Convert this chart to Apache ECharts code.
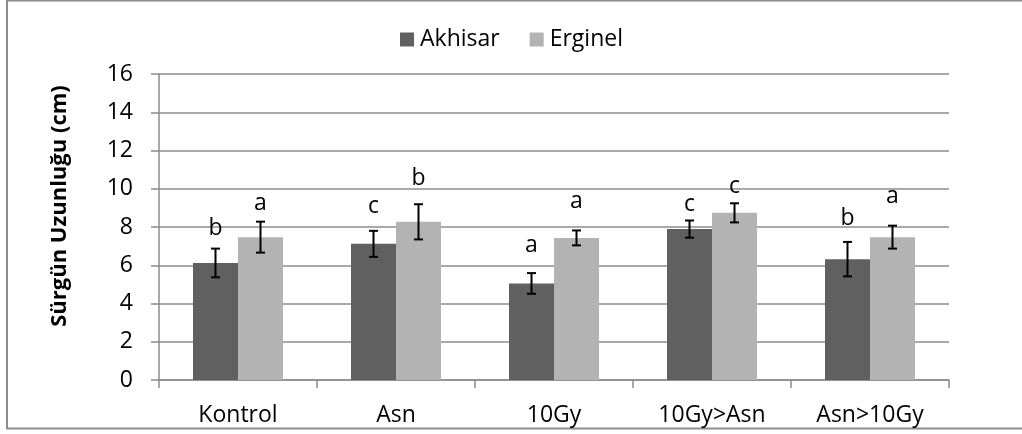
<!DOCTYPE html>
<html>
<head>
<meta charset="utf-8">
<script src="https://cdn.jsdelivr.net/npm/echarts@6/dist/echarts.min.js"></script>
<style>
html,body{margin:0;padding:0;background:#fff;}
#chart{width:1022px;height:434px;}
</style>
</head>
<body>
<div id="chart"></div>
<script>
// ---- data ----
const categories = ['Kontrol', 'Asn', '10Gy', '10Gy>Asn', 'Asn>10Gy'];
const seriesNames = ['Akhisar', 'Erginel'];
const akhisarValues = [6.12, 7.12, 5.05, 7.89, 6.32];
const erginelValues = [7.47, 8.27, 7.43, 8.74, 7.47];
const akhisarErrors = [0.75, 0.68, 0.54, 0.45, 0.90];
const erginelErrors = [0.81, 0.92, 0.39, 0.50, 0.60];
const akhisarLetters = ['b', 'c', 'a', 'c', 'b'];
const erginelLetters = ['a', 'b', 'a', 'c', 'a'];
// letter baseline heights (axis units)
const akhisarLetterY = [7.57, 8.72, 6.68, 8.83, 8.09];
const erginelLetterY = [8.88, 10.18, 8.98, 9.76, 9.24];
const yTicks = { min: 0, max: 16, interval: 2 };
const yAxisTitle = 'Sürgün Uzunluğu (cm)';

// ---- style ----
const FONT = '"Open Sans", "Noto Sans", sans-serif';
const FS = 23;
const GRAY = '#8c8c8c';
const COLORS = ['#606060', '#b3b3b3'];
const BAR_W = 45;

const chart = echarts.init(document.getElementById('chart'), null, { renderer: 'canvas' });

function errData(vals, errs, letters, ly) {
  return vals.map((v, i) => [i, v, errs[i], letters[i], ly[i]]);
}

function makeErrRender(sign) {
  return function (params, api) {
    const cat = api.value(0), mean = api.value(1), err = api.value(2);
    const base = api.coord([cat, mean]);
    const x = base[0] + sign * BAR_W / 2;
    const yTop = api.coord([cat, mean + err])[1];
    const yBot = api.coord([cat, mean - err])[1];
    const ly = api.coord([cat, api.value(4)])[1];
    const cap = 4.5;
    const lineStyle = { stroke: '#000', lineWidth: 2 };
    return {
      type: 'group',
      children: [
        { type: 'line', shape: { x1: x, y1: yTop, x2: x, y2: yBot }, style: lineStyle },
        { type: 'line', shape: { x1: x - cap, y1: yTop, x2: x + cap, y2: yTop }, style: lineStyle },
        { type: 'line', shape: { x1: x - cap, y1: yBot, x2: x + cap, y2: yBot }, style: lineStyle },
        { type: 'text', x: x, y: ly + 5,
          style: { text: api.value(3), font: FS + 'px ' + FONT, fill: '#000', align: 'center', verticalAlign: 'bottom' } }
      ]
    };
  };
}

const option = {
  animation: false,
  backgroundColor: '#fff',
  textStyle: { fontFamily: FONT },
  graphic: [
    { type: 'rect', shape: { x: 7, y: 0.5, width: 1040, height: 428 },
      style: { fill: 'none', stroke: GRAY, lineWidth: 2 }, silent: true, z: -1 },
    { type: 'text', x: 60, y: 206, rotation: Math.PI / 2,
      style: { text: yAxisTitle, font: 'bold 22px ' + FONT, fill: '#000', align: 'center', verticalAlign: 'middle' } }
  ],
  legend: {
    data: seriesNames,
    left: 395,
    top: 23,
    icon: 'rect',
    itemWidth: 14,
    itemHeight: 14,
    itemGap: 30,
    textStyle: { fontSize: FS, fontFamily: FONT, color: '#000', padding: [0, 0, 0, 1] }
  },
  grid: { left: 159, right: 73, top: 74, bottom: 54, containLabel: false },
  xAxis: {
    type: 'category',
    data: categories,
    axisLine: { lineStyle: { color: GRAY, width: 1.5 } },
    axisTick: { show: true, length: 8, lineStyle: { color: GRAY, width: 1.5 } },
    axisLabel: { fontSize: FS, fontFamily: FONT, color: '#000', margin: 24 },
    splitLine: { show: false }
  },
  yAxis: {
    type: 'value',
    min: yTicks.min, max: yTicks.max, interval: yTicks.interval,
    axisLine: { show: true, lineStyle: { color: GRAY, width: 1.5 } },
    axisTick: { show: true, length: 8, lineStyle: { color: GRAY, width: 1.5 } },
    axisLabel: { fontSize: FS, fontFamily: FONT, color: '#000', margin: 26 },
    splitLine: { lineStyle: { color: GRAY, width: 1.5 } }
  },
  series: [
    { name: seriesNames[0], type: 'bar', data: akhisarValues, barWidth: BAR_W, barGap: '0%',
      itemStyle: { color: COLORS[0] } },
    { name: seriesNames[1], type: 'bar', data: erginelValues, barWidth: BAR_W, barGap: '0%',
      itemStyle: { color: COLORS[1] } },
    { type: 'custom', name: 'errA', data: errData(akhisarValues, akhisarErrors, akhisarLetters, akhisarLetterY),
      renderItem: makeErrRender(-1), z: 10, silent: true },
    { type: 'custom', name: 'errE', data: errData(erginelValues, erginelErrors, erginelLetters, erginelLetterY),
      renderItem: makeErrRender(1), z: 10, silent: true }
  ]
};
chart.setOption(option);
</script>
</body>
</html>
